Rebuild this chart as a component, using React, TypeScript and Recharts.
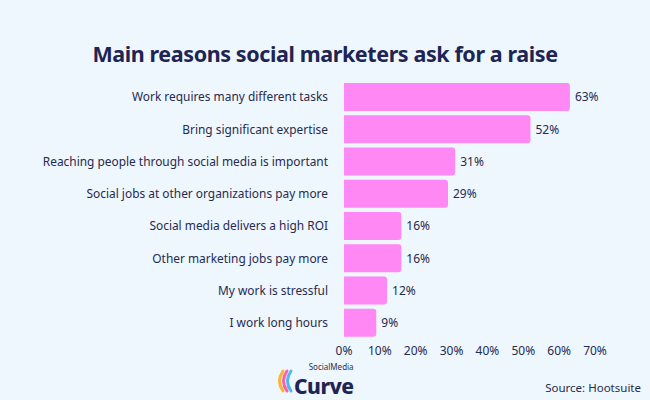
import { BarChart, Bar, XAxis, YAxis, LabelList } from 'recharts'

const REASONS = [
  'Work requires many different tasks',
  'Bring significant expertise',
  'Reaching people through social media is important',
  'Social jobs at other organizations pay more',
  'Social media delivers a high ROI',
  'Other marketing jobs pay more',
  'My work is stressful',
  'I work long hours',
]
const SHARES = [63, 52, 31, 29, 16, 16, 12, 9]
const X_TICKS = [0, 10, 20, 30, 40, 50, 60, 70]

const data = REASONS.map((reason, i) => ({ reason, share: SHARES[i] }))

const INK = '#262b4f'
const FONT = '"Noto Sans", "Open Sans", sans-serif'

export default function App() {
  return (
    <div style={{ position: 'absolute', left: 0, top: 0, width: 650, height: 400, background: '#eef6fe', fontFamily: FONT, overflow: 'hidden' }}>
      <div style={{ position: 'absolute', top: 39, width: 650, textAlign: 'center', fontSize: 21.5, fontWeight: 700, color: '#1f2553', letterSpacing: -0.4 }}>
        Main reasons social marketers ask for a raise
      </div>
      <BarChart
        width={650}
        height={400}
        data={data}
        layout="vertical"
        barCategoryGap={2}
        margin={{ top: 81, right: 55, bottom: 31, left: 0 }}
      >
        <XAxis
          type="number"
          domain={[0, 70]}
          ticks={X_TICKS}
          tickFormatter={(v) => `${v}%`}
          axisLine={false}
          tickLine={false}
          tickMargin={1}
          height={30}
          tick={{ fill: INK, fontSize: 12, fontFamily: FONT }}
        />
        <YAxis
          type="category"
          dataKey="reason"
          width={344}
          axisLine={false}
          tickLine={false}
          tickMargin={10}
          interval={0}
          tick={{ fill: INK, fontSize: 11.9, fontFamily: FONT }}
        />
        <Bar dataKey="share" fill="#ff88f4" radius={[0, 3, 3, 0]} isAnimationActive={false}>
          <LabelList
            dataKey="share"
            position="right"
            offset={5}
            formatter={(v: number) => `${v}%`}
            style={{ fill: INK, fontSize: 12, fontFamily: FONT }}
          />
        </Bar>
      </BarChart>
      <div style={{ position: 'absolute', left: 274, top: 361, display: 'flex', alignItems: 'flex-end' }}>
        <svg width={20} height={26} viewBox="0 0 20 26" style={{ marginBottom: 6 }}>
          <path d="M9 3 Q2 13 9 23" stroke="#f7b733" strokeWidth={3} fill="none" strokeLinecap="round" />
          <path d="M13 3 Q6 13 13 23" stroke="#ff5fa8" strokeWidth={3} fill="none" strokeLinecap="round" />
          <path d="M17 3 Q10 13 17 23" stroke="#4fb8f0" strokeWidth={3} fill="none" strokeLinecap="round" />
        </svg>
        <div style={{ display: 'flex', flexDirection: 'column', alignItems: 'flex-end' }}>
          <div style={{ fontSize: 8, color: '#2a2f55' }}>SocialMedia</div>
          <div style={{ fontSize: 21, fontWeight: 800, color: '#1f2553', letterSpacing: -0.5 }}>Curve</div>
        </div>
      </div>
      <div style={{ position: 'absolute', right: 9, top: 380, fontSize: 11.5, color: INK }}>Source: Hootsuite</div>
    </div>
  )
}
